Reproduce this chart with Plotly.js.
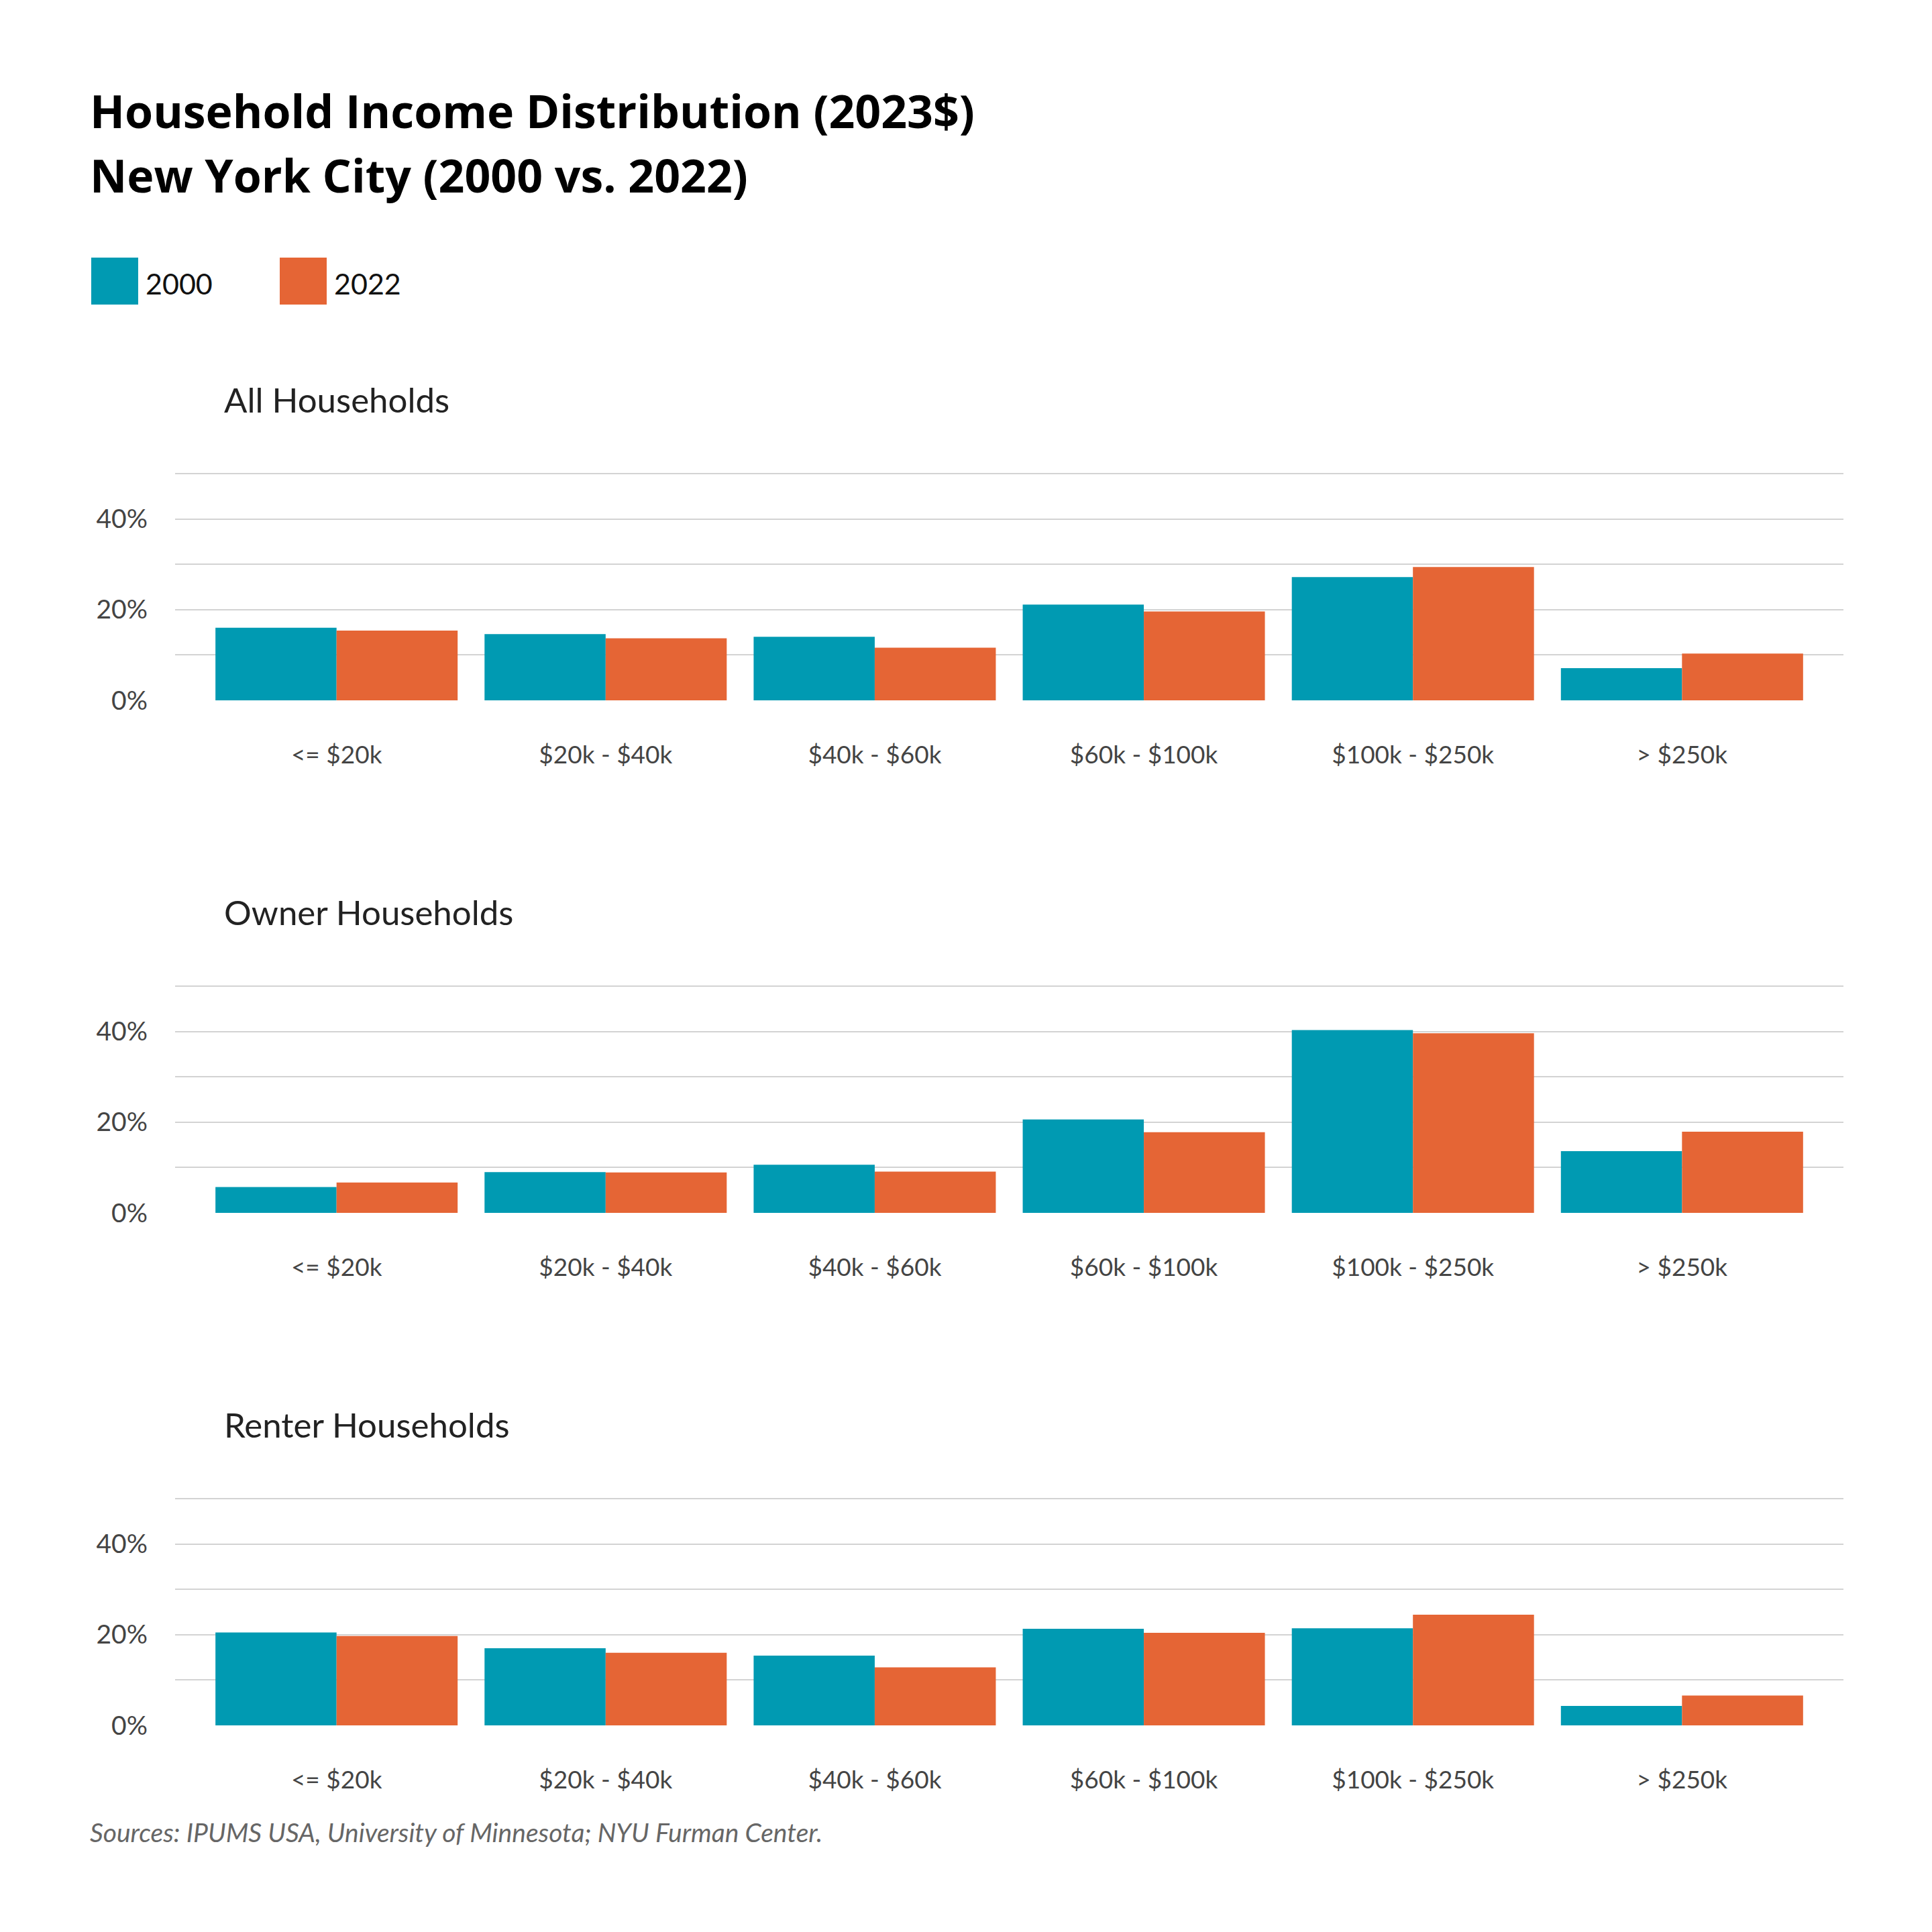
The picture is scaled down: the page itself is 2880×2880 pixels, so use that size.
<!DOCTYPE html>
<html>
<head>
<meta charset="utf-8">
<script src="https://cdn.plot.ly/plotly-3.0.1.min.js"></script>
<style>html,body{margin:0;padding:0;background:#fff;}#chart{width:2880px;height:2880px;}</style>
</head>
<body>
<div id="chart"></div>
<script>
const categories = ['<= $20k', '$20k - $40k', '$40k - $60k', '$60k - $100k', '$100k - $250k', '> $250k'];
const seriesNames = ['2000', '2022'];
const all2000 = [16.0, 14.6, 14.0, 21.1, 27.2, 7.1];
const all2022 = [15.4, 13.7, 11.6, 19.6, 29.4, 10.3];
const owner2000 = [5.7, 9.0, 10.6, 20.6, 40.3, 13.6];
const owner2022 = [6.7, 8.9, 9.1, 17.8, 39.6, 17.9];
const renter2000 = [20.5, 17.0, 15.4, 21.3, 21.4, 4.3];
const renter2022 = [19.7, 16.0, 12.8, 20.4, 24.4, 6.6];
const panelTitles = ['All Households', 'Owner Households', 'Renter Households'];
const yTickVals = [0, 10, 20, 30, 40, 50];
const yTickText = ['0%', '', '20%', '', '40%', ''];
const titleLines = ['Household Income Distribution (2023$)', 'New York City (2000 vs. 2022)'];
const sourceText = 'Sources: IPUMS USA, University of Minnesota; NYU Furman Center.';

const colors = ['#009AB2', '#E56535'];
const W = 2880, H = 2880;
const FONT = 'Lato, "Noto Sans", sans-serif';
const TITLEFONT = '"Open Sans", Lato, sans-serif';

const panels = [[all2000, all2022], [owner2000, owner2022], [renter2000, renter2022]];
const plotTops = [705, 1469, 2233];
const plotH = 339;
const xLeft = 261, xRight = 2748;

const traces = [];
panels.forEach((pair, i) => {
  pair.forEach((vals, j) => {
    traces.push({
      type: 'bar',
      x: categories,
      y: vals,
      name: seriesNames[j],
      marker: {color: colors[j], line: {width: 0}},
      xaxis: i === 0 ? 'x' : 'x' + (i + 1),
      yaxis: i === 0 ? 'y' : 'y' + (i + 1),
      showlegend: false,
      hoverinfo: 'skip'
    });
  });
});

const layout = {
  width: W, height: H,
  margin: {l: 0, r: 0, t: 0, b: 0},
  paper_bgcolor: '#ffffff',
  plot_bgcolor: '#ffffff',
  barmode: 'group',
  bargap: 0.1,
  bargroupgap: 0,
  font: {family: FONT, color: '#444'},
  annotations: [],
  shapes: []
};

panels.forEach((pair, i) => {
  const sfx = i === 0 ? '' : String(i + 1);
  const top = plotTops[i], bot = top + plotH;
  layout['xaxis' + sfx] = {
    domain: [xLeft / W, xRight / W],
    anchor: 'y' + sfx,
    range: [-0.6, 5.6],
    type: 'category',
    showgrid: false,
    showline: false,
    zeroline: false,
    ticks: '',
    ticklabelstandoff: 56,
    tickfont: {family: FONT, size: 37, color: '#444'},
    fixedrange: true
  };
  layout['yaxis' + sfx] = {
    domain: [1 - bot / H, 1 - top / H],
    anchor: 'x' + sfx,
    range: [0, 50.15],
    tickmode: 'array',
    tickvals: yTickVals,
    ticktext: yTickText,
    showgrid: true,
    gridcolor: '#d3d3d3',
    gridwidth: 2,
    zeroline: false,
    showline: false,
    ticks: '',
    ticklabelstandoff: 40,
    tickfont: {family: FONT, size: 39, color: '#444'},
    fixedrange: true
  };
  layout.annotations.push({
    xref: 'paper', yref: 'paper',
    x: 332 / W, y: 1 - (top - 110) / H,
    xanchor: 'left', yanchor: 'middle',
    text: panelTitles[i],
    showarrow: false,
    font: {family: FONT, size: 51, color: '#222'}
  });
});

// Title
const titleY = [165, 261];
titleLines.forEach((t, k) => {
  layout.annotations.push({
    xref: 'paper', yref: 'paper',
    x: 132 / W, y: 1 - titleY[k] / H,
    xanchor: 'left', yanchor: 'middle',
    text: '<b>' + t + '</b>',
    showarrow: false,
    font: {family: TITLEFONT, size: 68, color: '#000'}
  });
});

// Legend
const legSwatchX = [136, 417];
seriesNames.forEach((n, j) => {
  layout.shapes.push({
    type: 'rect', xref: 'paper', yref: 'paper',
    x0: legSwatchX[j] / W, x1: (legSwatchX[j] + 70) / W,
    y0: 1 - 454 / H, y1: 1 - 384 / H,
    fillcolor: colors[j], line: {width: 0}
  });
  layout.annotations.push({
    xref: 'paper', yref: 'paper',
    x: (legSwatchX[j] + 79) / W, y: 1 - 422 / H,
    xanchor: 'left', yanchor: 'middle',
    text: n, showarrow: false,
    font: {family: FONT, size: 43, color: '#111'}
  });
});

// Source
layout.annotations.push({
  xref: 'paper', yref: 'paper',
  x: 132 / W, y: 1 - 2731 / H,
  xanchor: 'left', yanchor: 'middle',
  text: '<i>' + sourceText + '</i>',
  showarrow: false,
  font: {family: FONT, size: 39, color: '#666'}
});

Plotly.newPlot('chart', traces, layout, {displayModeBar: false, staticPlot: true});
</script>
</body>
</html>
